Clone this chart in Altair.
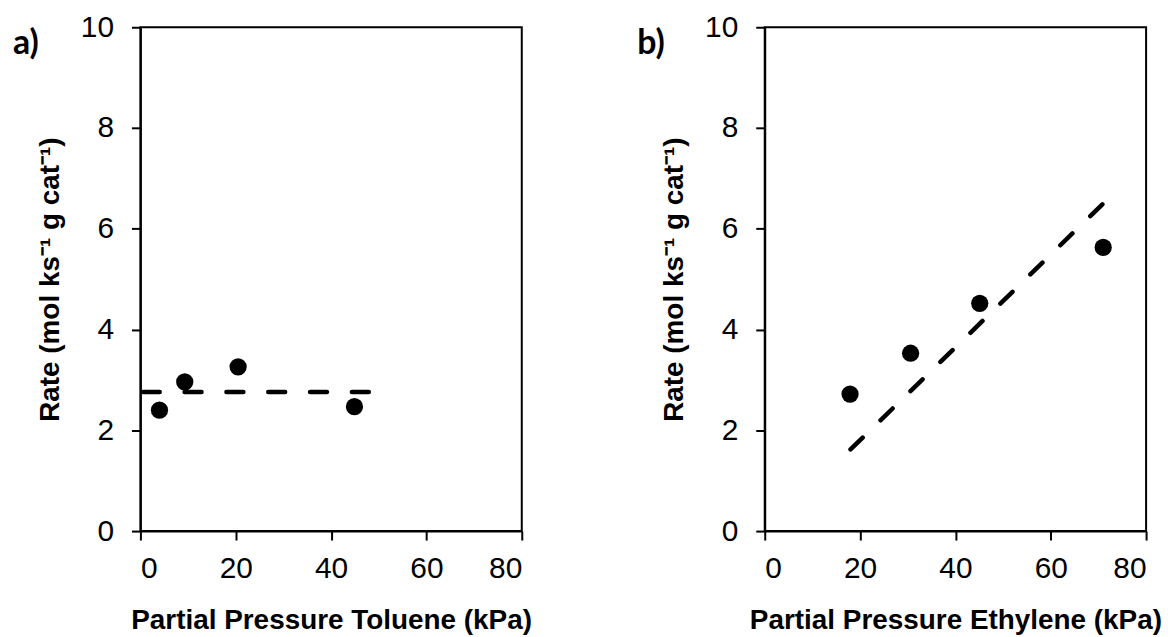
import altair as alt
import pandas as pd

# Panel a: toluene
tol_x = [4.0, 9.3, 20.5, 44.9]
tol_y = [2.40, 2.96, 3.26, 2.47]
tol_fit_x = [0.5, 51.0]
tol_fit_y = [2.76, 2.76]

# Panel b: ethylene
eth_x = [17.9, 30.6, 45.1, 71.0]
eth_y = [2.72, 3.53, 4.52, 5.63]
eth_fit_x = [18.0, 71.2]
eth_fit_y = [1.62, 6.52]

x_ticks = [0, 20, 40, 60, 80]
y_ticks = [0, 2, 4, 6, 8, 10]
y_title = "Rate (mol ks\u207b\u00b9 g cat\u207b\u00b9)"

W, H = 383, 506


def panel(px, py, fx, fy, xtitle, label):
    pts = pd.DataFrame({"x": px, "y": py})
    fit = pd.DataFrame({"x": fx, "y": fy})
    xenc = alt.X("x:Q", scale=alt.Scale(domain=[0, 80], nice=False),
                 axis=alt.Axis(values=x_ticks, title=xtitle))
    yenc = alt.Y("y:Q", scale=alt.Scale(domain=[0, 10], nice=False),
                 axis=alt.Axis(values=y_ticks, title=y_title))
    p = alt.Chart(pts).mark_circle(size=300, color="black", opacity=1).encode(x=xenc, y=yenc)
    l = alt.Chart(fit).mark_line(color="black", strokeWidth=4.5, strokeDash=[17, 25],
                                 strokeCap="round").encode(x=xenc, y=yenc)
    t = alt.Chart(pd.DataFrame({"t": [label]})).mark_text(
        font="Lato", fontSize=34, fontWeight="bold", align="left", baseline="middle", color="black"
    ).encode(x=alt.value(-128), y=alt.value(17), text="t:N")
    return alt.layer(l, p, t).properties(width=W, height=H)


a = panel(tol_x, tol_y, tol_fit_x, tol_fit_y, "Partial Pressure Toluene (kPa)", "a)")
b = panel(eth_x, eth_y, eth_fit_x, eth_fit_y, "Partial Pressure Ethylene (kPa)", "b)")

chart = alt.hconcat(a, b, spacing=104).properties(
    padding={"left": 12, "top": 10, "right": 5, "bottom": 0},
    background="white",
).configure_view(
    stroke="black", strokeWidth=2
).configure_axis(
    grid=False,
    domainColor="black", domainWidth=2,
    tickColor="black", tickWidth=2, tickSize=9,
    labelFont="Liberation Sans", labelFontSize=30, labelColor="black",
    titleFont="Liberation Sans", titleFontSize=28, titleFontWeight="bold", titleColor="black",
).configure_axisX(
    labelPadding=14, titlePadding=23
).configure_axisY(
    labelPadding=18, titlePadding=16
)

chart.save("out.html", embed_options={"renderer": "svg", "actions": False})
